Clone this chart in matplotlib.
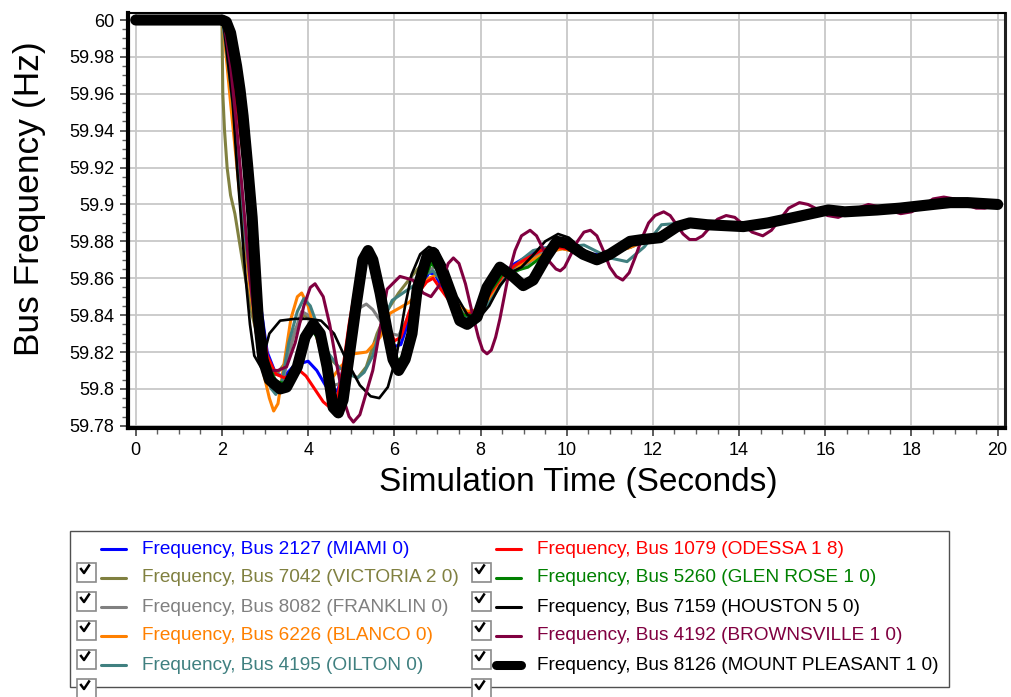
#!/usr/bin/env python3
import numpy as np
import matplotlib; matplotlib.use('Agg')
import matplotlib.pyplot as plt
from matplotlib.ticker import MultipleLocator, FuncFormatter
from matplotlib.lines import Line2D
from matplotlib.patches import Rectangle

plt.rcParams['font.family'] = ['Liberation Sans', 'DejaVu Sans']

# ---- data (time in s, frequency in Hz) ----
miami_t = [0, 2.0, 2.15, 2.3, 2.5, 2.7, 2.9, 3.05, 3.25, 3.45, 3.65, 3.85, 4.0, 4.2, 4.4, 4.55, 4.7, 4.85, 5.0, 5.15, 5.3, 5.4, 5.55, 5.7, 5.85, 6.0, 6.15, 6.35, 6.55, 6.8, 6.95, 7.1, 7.3, 7.6, 7.9, 8.2, 8.5, 8.8, 9.1, 9.4, 9.7, 10.0, 10.4, 10.8, 11.2, 11.6, 12.0, 12.5, 13.0, 14.0, 14.6, 15.2, 16.0, 17.0, 18.0, 18.8, 19.5, 20.0]
miami_f = [60, 60, 59.99, 59.965, 59.93, 59.885, 59.845, 59.82, 59.808, 59.807, 59.812, 59.814, 59.815, 59.81, 59.802, 59.797, 59.8, 59.815, 59.835, 59.855, 59.87, 59.873, 59.866, 59.85, 59.833, 59.823, 59.824, 59.838, 59.852, 59.863, 59.862, 59.855, 59.848, 59.84, 59.842, 59.852, 59.862, 59.868, 59.872, 59.876, 59.877, 59.876, 59.873, 59.873, 59.876, 59.879, 59.882, 59.887, 59.889, 59.889, 59.89, 59.893, 59.897, 59.897, 59.898, 59.901, 59.9, 59.9]

odessa_t = [0, 2.0, 2.15, 2.3, 2.5, 2.7, 2.9, 3.05, 3.25, 3.45, 3.65, 3.8, 3.95, 4.15, 4.35, 4.5, 4.65, 4.8, 4.95, 5.1, 5.3, 5.4, 5.55, 5.7, 5.85, 6.0, 6.15, 6.35, 6.55, 6.75, 6.9, 7.05, 7.3, 7.6, 7.9, 8.2, 8.5, 8.8, 9.1, 9.4, 9.7, 10.0, 10.4, 10.8, 11.2, 11.6, 12.0, 12.5, 13.0, 14.0, 14.6, 15.2, 16.0, 17.0, 18.0, 18.8, 19.5, 20.0]
odessa_f = [60, 60, 59.99, 59.962, 59.925, 59.88, 59.84, 59.818, 59.808, 59.806, 59.808, 59.81, 59.807, 59.8, 59.793, 59.79, 59.792, 59.81, 59.835, 59.855, 59.87, 59.873, 59.866, 59.85, 59.835, 59.826, 59.828, 59.842, 59.852, 59.858, 59.86, 59.855, 59.847, 59.84, 59.842, 59.851, 59.861, 59.867, 59.871, 59.875, 59.877, 59.876, 59.873, 59.872, 59.875, 59.879, 59.882, 59.887, 59.889, 59.889, 59.89, 59.893, 59.897, 59.897, 59.898, 59.901, 59.9, 59.9]

victoria_t = [0, 2.0, 2.02, 2.06, 2.12, 2.2, 2.3, 2.5, 2.7, 2.9, 3.1, 3.3, 3.5, 3.7, 3.9, 4.05, 4.25, 4.45, 4.7, 4.95, 5.15, 5.35, 5.6, 5.85, 6.1, 6.4, 6.65, 6.85, 7.05, 7.3, 7.55, 7.85, 8.1, 8.4, 8.7, 9.0, 9.3, 9.6, 9.9, 10.3, 10.7, 11.1, 11.5, 11.9, 12.3, 12.7, 13.3, 14.0, 14.6, 15.2, 16.0, 17.0, 18.0, 18.8, 19.5, 20.0]
victoria_f = [60, 60, 59.96, 59.94, 59.92, 59.905, 59.895, 59.866, 59.84, 59.822, 59.812, 59.809, 59.815, 59.832, 59.84, 59.838, 59.828, 59.818, 59.812, 59.808, 59.806, 59.812, 59.83, 59.843, 59.852, 59.861, 59.868, 59.87, 59.862, 59.85, 59.842, 59.84, 59.846, 59.856, 59.864, 59.868, 59.872, 59.875, 59.876, 59.874, 59.872, 59.874, 59.877, 59.881, 59.886, 59.889, 59.889, 59.889, 59.89, 59.893, 59.897, 59.897, 59.898, 59.901, 59.9, 59.9]

glenrose_t = [0, 2.0, 2.15, 2.3, 2.45, 2.6, 2.75, 2.9, 3.05, 3.25, 3.45, 3.7, 3.95, 4.12, 4.3, 4.5, 4.65, 4.8, 4.95, 5.15, 5.35, 5.5, 5.7, 5.9, 6.05, 6.2, 6.4, 6.6, 6.85, 7.05, 7.3, 7.6, 7.9, 8.2, 8.5, 8.8, 9.1, 9.5, 9.8, 10.1, 10.5, 10.9, 11.3, 11.7, 12.1, 12.6, 13.2, 14.0, 14.7, 15.3, 16.0, 17.0, 18.0, 18.8, 19.5, 20.0]
glenrose_f = [60, 60, 59.992, 59.97, 59.945, 59.91, 59.87, 59.835, 59.815, 59.804, 59.803, 59.812, 59.827, 59.831, 59.825, 59.806, 59.792, 59.795, 59.82, 59.85, 59.871, 59.868, 59.848, 59.825, 59.814, 59.818, 59.835, 59.855, 59.868, 59.864, 59.852, 59.84, 59.84, 59.852, 59.862, 59.864, 59.866, 59.873, 59.878, 59.877, 59.872, 59.872, 59.876, 59.88, 59.883, 59.888, 59.889, 59.889, 59.89, 59.893, 59.897, 59.897, 59.898, 59.901, 59.9, 59.9]

franklin_t = [0, 2.0, 2.1, 2.25, 2.4, 2.55, 2.7, 2.85, 3.0, 3.15, 3.3, 3.45, 3.65, 3.85, 4.0, 4.2, 4.4, 4.6, 4.75, 4.9, 5.05, 5.2, 5.35, 5.5, 5.7, 5.9, 6.1, 6.3, 6.5, 6.75, 6.95, 7.15, 7.4, 7.65, 7.9, 8.15, 8.4, 8.7, 9.0, 9.3, 9.6, 9.9, 10.3, 10.7, 11.1, 11.5, 11.9, 12.3, 12.7, 13.3, 14.0, 14.6, 15.2, 16.0, 17.0, 18.0, 18.8, 19.5, 20.0]
franklin_f = [60, 60, 59.988, 59.958, 59.922, 59.885, 59.852, 59.826, 59.808, 59.8, 59.798, 59.808, 59.828, 59.842, 59.84, 59.828, 59.812, 59.802, 59.803, 59.818, 59.835, 59.844, 59.846, 59.843, 59.836, 59.83, 59.829, 59.838, 59.852, 59.864, 59.866, 59.858, 59.848, 59.841, 59.842, 59.85, 59.858, 59.862, 59.866, 59.872, 59.876, 59.877, 59.874, 59.872, 59.874, 59.877, 59.881, 59.886, 59.889, 59.889, 59.889, 59.89, 59.893, 59.897, 59.897, 59.898, 59.901, 59.9, 59.9]

houston_t = [0, 2.0, 2.05, 2.15, 2.25, 2.35, 2.45, 2.55, 2.65, 2.75, 2.9, 3.1, 3.35, 3.7, 4.0, 4.3, 4.6, 4.9, 5.2, 5.45, 5.65, 5.85, 6.05, 6.25, 6.4, 6.6, 6.8, 7.0, 7.2, 7.45, 7.7, 7.95, 8.2, 8.45, 8.7, 8.95, 9.2, 9.5, 9.8, 10.05, 10.35, 10.7, 11.1, 11.5, 12.0, 12.5, 13.0, 14.0, 15.0, 16.0, 17.0, 18.0, 19.0, 20.0]
houston_f = [60, 60, 59.995, 59.975, 59.955, 59.92, 59.89, 59.86, 59.835, 59.818, 59.812, 59.83, 59.837, 59.838, 59.838, 59.837, 59.83, 59.815, 59.802, 59.796, 59.795, 59.801, 59.818, 59.845, 59.862, 59.873, 59.877, 59.875, 59.866, 59.85, 59.84, 59.838, 59.845, 59.856, 59.863, 59.866, 59.872, 59.88, 59.884, 59.882, 59.876, 59.871, 59.873, 59.878, 59.881, 59.887, 59.889, 59.889, 59.892, 59.897, 59.897, 59.898, 59.901, 59.9]

blanco_t = [0, 2.0, 2.08, 2.2, 2.35, 2.5, 2.65, 2.8, 2.95, 3.1, 3.2, 3.3, 3.45, 3.6, 3.75, 3.85, 4.0, 4.15, 4.3, 4.45, 4.56, 4.75, 5.05, 5.36, 5.67, 5.9, 6.13, 6.35, 6.55, 6.8, 7.0, 7.2, 7.45, 7.7, 7.95, 8.25, 8.55, 8.85, 9.2, 9.55, 9.9, 10.3, 10.7, 11.1, 11.5, 11.9, 12.3, 12.7, 13.3, 14.0, 14.6, 15.2, 16.0, 17.0, 18.0, 18.8, 19.5, 20.0]
blanco_f = [60, 60, 59.985, 59.955, 59.92, 59.885, 59.855, 59.83, 59.81, 59.795, 59.788, 59.792, 59.815, 59.838, 59.85, 59.852, 59.845, 59.832, 59.82, 59.811, 59.806, 59.812, 59.819, 59.82, 59.828, 59.841, 59.844, 59.847, 59.852, 59.86, 59.862, 59.855, 59.846, 59.842, 59.843, 59.85, 59.86, 59.866, 59.87, 59.874, 59.876, 59.874, 59.872, 59.874, 59.877, 59.881, 59.886, 59.889, 59.889, 59.889, 59.89, 59.893, 59.897, 59.897, 59.898, 59.901, 59.9, 59.9]

brownsville_t = [0, 2.0, 2.05, 2.2, 2.35, 2.5, 2.65, 2.8, 2.95, 3.1, 3.3, 3.5, 3.7, 3.9, 4.05, 4.16, 4.35, 4.5, 4.65, 4.8, 4.95, 5.05, 5.2, 5.35, 5.5, 5.65, 5.83, 6.13, 6.43, 6.67, 6.85, 7.1, 7.25, 7.37, 7.5, 7.65, 7.8, 7.95, 8.05, 8.15, 8.25, 8.35, 8.45, 8.55, 8.65, 8.8, 8.95, 9.15, 9.3, 9.45, 9.6, 9.75, 9.85, 9.95, 10.1, 10.25, 10.4, 10.55, 10.7, 10.85, 11.0, 11.15, 11.3, 11.45, 11.6, 11.75, 11.9, 12.05, 12.25, 12.4, 12.55, 12.7, 12.85, 13.0, 13.15, 13.3, 13.5, 13.7, 13.9, 14.1, 14.3, 14.55, 14.75, 14.95, 15.15, 15.4, 15.6, 15.85, 16.05, 16.3, 16.5, 16.75, 17.0, 17.2, 17.45, 17.75, 18.0, 18.25, 18.5, 18.75, 19.0, 19.25, 19.5, 19.7, 20.0]
brownsville_f = [60, 60, 59.998, 59.975, 59.94, 59.9, 59.86, 59.83, 59.815, 59.81, 59.81, 59.812, 59.825, 59.845, 59.855, 59.857, 59.85, 59.835, 59.815, 59.796, 59.785, 59.782, 59.786, 59.798, 59.81, 59.83, 59.854, 59.861, 59.859, 59.852, 59.85, 59.858, 59.868, 59.871, 59.868, 59.857, 59.842, 59.828, 59.821, 59.819, 59.821, 59.828, 59.838, 59.85, 59.862, 59.875, 59.883, 59.886, 59.883, 59.876, 59.869, 59.865, 59.864, 59.866, 59.873, 59.88, 59.885, 59.886, 59.883, 59.875, 59.866, 59.861, 59.859, 59.863, 59.872, 59.882, 59.89, 59.894, 59.896, 59.894, 59.889, 59.884, 59.881, 59.881, 59.883, 59.887, 59.892, 59.894, 59.893, 59.889, 59.885, 59.883, 59.886, 59.892, 59.898, 59.901, 59.9, 59.897, 59.894, 59.893, 59.895, 59.898, 59.9, 59.899, 59.897, 59.895, 59.896, 59.899, 59.903, 59.904, 59.903, 59.9, 59.898, 59.898, 59.9]

oilton_t = [0, 2.0, 2.1, 2.25, 2.4, 2.55, 2.7, 2.85, 3.0, 3.15, 3.25, 3.4, 3.55, 3.75, 3.9, 4.05, 4.25, 4.45, 4.7, 4.95, 5.15, 5.3, 5.5, 5.7, 5.95, 6.2, 6.45, 6.7, 6.9, 7.1, 7.35, 7.6, 7.85, 8.1, 8.35, 8.65, 8.95, 9.22, 9.6, 10.0, 10.4, 11.0, 11.4, 11.8, 12.2, 12.7, 13.5, 14.6, 15.2, 16.0, 17.0, 18.0, 18.8, 19.5, 20.0]
oilton_f = [60, 60, 59.985, 59.955, 59.92, 59.88, 59.85, 59.825, 59.808, 59.8, 59.797, 59.805, 59.825, 59.842, 59.849, 59.845, 59.832, 59.82, 59.812, 59.808, 59.806, 59.809, 59.818, 59.835, 59.848, 59.852, 59.856, 59.862, 59.864, 59.858, 59.848, 59.84, 59.837, 59.843, 59.852, 59.863, 59.87, 59.875, 59.877, 59.877, 59.878, 59.871, 59.869, 59.877, 59.889, 59.89, 59.888, 59.888, 59.891, 59.896, 59.897, 59.898, 59.901, 59.9, 59.9]

mtpleasant_t = [0, 2.0, 2.1, 2.2, 2.34, 2.42, 2.49, 2.6, 2.7, 2.77, 2.84, 2.95, 3.1, 3.35, 3.5, 3.75, 3.93, 4.12, 4.28, 4.44, 4.58, 4.7, 4.81, 4.97, 5.13, 5.27, 5.39, 5.5, 5.67, 5.83, 5.97, 6.1, 6.25, 6.41, 6.53, 6.76, 6.9, 7.06, 7.29, 7.52, 7.69, 7.92, 8.15, 8.45, 8.75, 8.99, 9.22, 9.54, 9.77, 10.0, 10.38, 10.7, 11.0, 11.47, 11.77, 12.17, 12.56, 12.86, 13.26, 14.1, 14.67, 15.28, 16.07, 16.45, 17.2, 17.73, 18.5, 18.9, 19.3, 20.0]
mtpleasant_f = [60, 60, 59.999, 59.993, 59.975, 59.962, 59.948, 59.92, 59.893, 59.866, 59.839, 59.816, 59.805, 59.8, 59.801, 59.812, 59.828, 59.835, 59.83, 59.812, 59.79, 59.787, 59.794, 59.821, 59.848, 59.87, 59.875, 59.87, 59.852, 59.832, 59.816, 59.81, 59.816, 59.83, 59.854, 59.872, 59.874, 59.866, 59.852, 59.837, 59.835, 59.839, 59.855, 59.866, 59.861, 59.856, 59.859, 59.872, 59.88, 59.879, 59.873, 59.87, 59.873, 59.88, 59.881, 59.882, 59.888, 59.89, 59.889, 59.888, 59.89, 59.893, 59.897, 59.896, 59.897, 59.898, 59.9, 59.901, 59.901, 59.9]

# legend columns: (label, colour, t, f, linewidth)
left_col = [
    ('Frequency, Bus 2127 (MIAMI 0)', '#0000ff', miami_t, miami_f, 2.2),
    ('Frequency, Bus 7042 (VICTORIA 2 0)', '#808040', victoria_t, victoria_f, 2.2),
    ('Frequency, Bus 8082 (FRANKLIN 0)', '#808080', franklin_t, franklin_f, 2.2),
    ('Frequency, Bus 6226 (BLANCO 0)', '#ff8000', blanco_t, blanco_f, 2.2),
    ('Frequency, Bus 4195 (OILTON 0)', '#408080', oilton_t, oilton_f, 2.2),
]
right_col = [
    ('Frequency, Bus 1079 (ODESSA 1 8)', '#ff0000', odessa_t, odessa_f, 2.2),
    ('Frequency, Bus 5260 (GLEN ROSE 1 0)', '#008000', glenrose_t, glenrose_f, 2.2),
    ('Frequency, Bus 7159 (HOUSTON 5 0)', '#000000', houston_t, houston_f, 1.9),
    ('Frequency, Bus 4192 (BROWNSVILLE 1 0)', '#800040', brownsville_t, brownsville_f, 2.2),
    ('Frequency, Bus 8126 (MOUNT PLEASANT 1 0)', '#000000', mtpleasant_t, mtpleasant_f, 8.0),
]

W, H = 1011, 697
fig = plt.figure(figsize=(W / 100, H / 100), dpi=100)
ax = fig.add_axes([128 / W, 1 - 428 / H, (1005 - 128) / W, (428 - 13) / H])

for lab, col, t, f, lw in left_col + right_col:
    ax.plot(t, f, color=col, lw=lw, solid_capstyle='round', solid_joinstyle='round')

ax.set_xlim(-0.18, 20.17)
ax.set_ylim(59.7788, 60.0038)
ax.xaxis.set_major_locator(MultipleLocator(2))
ax.xaxis.set_minor_locator(MultipleLocator(0.5))
ax.yaxis.set_major_locator(MultipleLocator(0.02))
ax.yaxis.set_minor_locator(MultipleLocator(0.005))
ax.yaxis.set_major_formatter(FuncFormatter(lambda v, p: '%g' % round(v, 3)))
ax.grid(True, which='major', color='#c8c8c8', lw=1.3)
ax.set_axisbelow(True)
ax.tick_params(which='major', direction='out', length=6, width=1.2, color='#404040',
               labelsize=13, pad=4)
ax.tick_params(which='minor', direction='out', length=4, width=1.0, color='#606060')
for side, lw, c in [('left', 3.0, 'black'), ('bottom', 3.0, 'black'),
                    ('top', 1.5, 'black'), ('right', 2.2, '#202020')]:
    ax.spines[side].set_linewidth(lw)
    ax.spines[side].set_color(c)

fig.text(30 / W, 1 - 199 / H, 'Bus Frequency (Hz)', rotation=90, fontsize=25.5,
         ha='center', va='center')
fig.text(578 / W, 1 - 483 / H, 'Simulation Time (Seconds)', fontsize=24,
         ha='center', va='center')

# legend panel drawn by hand (checkbox style)
fig.patches.append(Rectangle((70 / W, 1 - 687 / H), (949 - 70) / W, (687 - 531) / H,
                             transform=fig.transFigure, fill=False,
                             edgecolor='#505050', lw=1.0))
rows = [549, 578, 607, 636, 665]
cols = [(77, 101, 126, 142, left_col), (472, 496, 521, 537, right_col)]
for bx, lx0, lx1, tx, entries in cols:
    for i, (lab, col, t, f, lw) in enumerate(entries):
        yc = rows[i]
        fig.lines.append(Line2D([lx0 / W, lx1 / W], [1 - yc / H, 1 - yc / H],
                                transform=fig.transFigure, color=col,
                                lw=2.2 if lw < 5 else 6.5, solid_capstyle='round'))
        fig.text(tx / W, 1 - yc / H, lab, color=col, fontsize=13.7, ha='left', va='center')
    for yc in rows[1:] + [694]:
        top = yc - 15
        fig.patches.append(Rectangle((bx / W, 1 - (top + 19) / H), 19 / W, 19 / H,
                                     transform=fig.transFigure, facecolor='white',
                                     edgecolor='#8a8a8a', lw=1.2, clip_on=False))
        fig.lines.append(Line2D([(bx + 4) / W, (bx + 7) / W, (bx + 12) / W],
                                [1 - (top + 6) / H, 1 - (top + 10) / H, 1 - (top + 2.5) / H],
                                transform=fig.transFigure, color='black', lw=1.8))

fig.savefig('out.png', dpi=100)
